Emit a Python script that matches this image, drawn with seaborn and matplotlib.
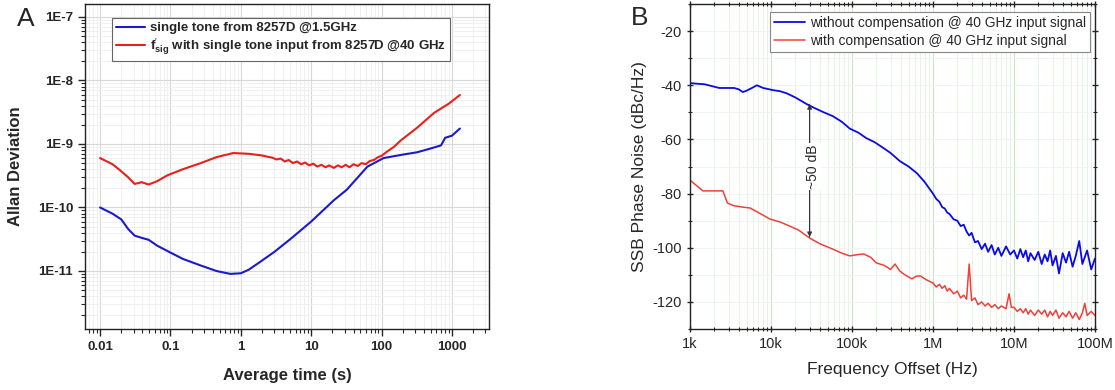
import numpy as np
import pandas as pd
import matplotlib
matplotlib.use("Agg")
import matplotlib.pyplot as plt
import matplotlib.ticker as mticker
import seaborn as sns

# ---- panel A: Allan deviation ----
tau_blue = [0.01, 0.015, 0.02, 0.025, 0.031, 0.04, 0.049, 0.065, 0.1, 0.15, 0.27, 0.45,
            0.71, 1.0, 1.3, 1.9, 3.0, 5.1, 10, 21, 32, 63, 107, 200, 320, 500, 700, 770,
            800, 1000, 1300]
adev_blue = [1.0e-10, 8.0e-11, 6.5e-11, 4.6e-11, 3.6e-11, 3.3e-11, 3.1e-11, 2.5e-11, 1.95e-11,
             1.55e-11, 1.22e-11, 1.0e-11, 9.0e-12, 9.2e-12, 1.05e-11, 1.4e-11, 2.0e-11, 3.2e-11,
             6.0e-11, 1.3e-10, 1.9e-10, 4.4e-10, 6.0e-10, 6.8e-10, 7.4e-10, 8.5e-10, 9.5e-10,
             1.15e-9, 1.25e-9, 1.35e-9, 1.75e-9]

tau_red = [0.01, 0.015, 0.019, 0.025, 0.031, 0.039, 0.049, 0.065, 0.09, 0.15, 0.27, 0.45,
           0.78, 1.3, 2.0, 2.4, 2.8, 3.2, 3.7, 4.2, 4.8, 5.5, 6.3, 7.2, 8.2, 9.4, 10.7, 12.2,
           14, 16, 18, 21, 24, 27, 31, 35, 40, 46, 52, 60, 68, 78, 89, 100, 120, 150, 190,
           320, 560, 900, 1300]
adev_red = [6.0e-10, 4.8e-10, 3.9e-10, 3.0e-10, 2.35e-10, 2.5e-10, 2.3e-10, 2.6e-10, 3.2e-10,
            4.0e-10, 5.0e-10, 6.2e-10, 7.2e-10, 7.0e-10, 6.6e-10, 6.3e-10, 6.1e-10, 5.7e-10,
            5.9e-10, 5.3e-10, 5.6e-10, 5.0e-10, 5.3e-10, 4.8e-10, 5.1e-10, 4.6e-10, 4.9e-10,
            4.4e-10, 4.7e-10, 4.3e-10, 4.6e-10, 4.2e-10, 4.6e-10, 4.3e-10, 4.7e-10, 4.3e-10,
            4.8e-10, 4.5e-10, 5.0e-10, 4.8e-10, 5.4e-10, 5.6e-10, 6.2e-10, 6.5e-10, 7.6e-10,
            9.0e-10, 1.15e-9, 1.8e-9, 3.1e-9, 4.3e-9, 5.9e-9]

label_blue_a = "single tone from 8257D @1.5GHz"
label_red_a = r"$\mathbf{f}_{\mathbf{sig}}^{\prime}$ with single tone input from 8257D @40 GHz"

a_yticks = [1e-11, 1e-10, 1e-9, 1e-8, 1e-7]
a_yticklabels = ["1E-11", "1E-10", "1E-9", "1E-8", "1E-7"]
a_xticks = [0.01, 0.1, 1, 10, 100, 1000]
a_xticklabels = ["0.01", "0.1", "1", "10", "100", "1000"]

# ---- panel B: SSB phase noise ----
f_blue = [1e3, 1.3e3, 1.5e3, 1.8e3, 2.3e3, 2.8e3, 3.5e3, 4e3, 4.5e3, 5e3, 6e3, 6.7e3, 8e3,
          1.06e4, 1.3e4, 1.57e4, 2e4, 2.78e4, 3.5e4, 4.5e4, 5.8e4, 7.5e4, 9.4e4, 1.2e5, 1.5e5,
          1.9e5, 2.4e5, 3e5, 3.9e5, 5e5, 6.3e5, 7.8e5,
          1.0e6, 1.1e6, 1.2e6, 1.3e6, 1.4e6, 1.5e6, 1.6e6, 1.8e6, 2.0e6, 2.2e6, 2.4e6, 2.6e6,
          2.8e6, 3.0e6, 3.3e6, 3.6e6, 4.0e6, 4.4e6, 4.8e6, 5.3e6, 5.8e6, 6.4e6, 7.0e6, 8.0e6,
          9.0e6,
          1.0e7, 1.1e7, 1.2e7, 1.3e7, 1.4e7, 1.5e7, 1.6e7, 1.8e7, 2.0e7, 2.2e7, 2.4e7, 2.6e7,
          2.8e7, 3.0e7, 3.3e7, 3.6e7, 4.0e7, 4.4e7, 4.8e7, 5.3e7, 5.8e7, 6.4e7, 7.0e7, 8.0e7,
          9.0e7, 1.0e8]
pn_blue = [-39.2, -39.5, -39.6, -40.2, -41, -41, -41, -41.5, -42.5, -42, -40.8, -40, -41,
           -41.8, -42.2, -43, -44.5, -47, -48.5, -50, -51.4, -53.5, -56, -57.5, -59.5,
           -61, -63, -65, -68, -70, -72.4, -75.5,
           -80, -82, -83, -85, -85.5, -87, -87.5, -89.5, -90, -92, -91.5, -94,
           -95.5, -94.5, -98, -97.5, -100.5, -98.5, -101.5, -99, -102.5, -100, -103, -99.5,
           -102.5,
           -101, -104, -100.5, -103.5, -101, -105, -102, -104.5, -101.5, -106, -102.5, -105,
           -101, -106.5, -103, -109.5, -102, -105.5, -101.5, -107, -103, -97.5, -106, -101,
           -108, -104]

f_red = [1e3, 1.2e3, 1.45e3, 2e3, 2.55e3, 2.9e3, 3.5e3, 4.5e3, 5.5e3, 7e3, 9.7e3, 1.3e4,
         1.7e4, 2.2e4, 3e4, 4e4, 5.8e4, 7.5e4, 9.4e4, 1.2e5, 1.4e5, 1.7e5, 2e5, 2.5e5, 3e5,
         3.4e5, 3.9e5, 4.5e5, 5.5e5, 6.2e5, 7e5, 8.5e5,
         1.0e6, 1.1e6, 1.2e6, 1.3e6, 1.4e6, 1.5e6, 1.6e6, 1.8e6, 2.0e6, 2.2e6, 2.4e6, 2.6e6,
         2.8e6, 3.0e6, 3.3e6, 3.6e6, 4.0e6, 4.4e6, 4.8e6, 5.3e6, 5.8e6, 6.4e6, 7.0e6, 8.0e6,
         8.7e6, 9.3e6,
         1.0e7, 1.1e7, 1.2e7, 1.3e7, 1.4e7, 1.5e7, 1.6e7, 1.8e7, 2.0e7, 2.2e7, 2.4e7, 2.6e7,
         2.8e7, 3.0e7, 3.3e7, 3.6e7, 4.0e7, 4.4e7, 4.8e7, 5.3e7, 5.8e7, 6.4e7, 7.0e7, 7.5e7,
         8.0e7, 9.0e7, 1.0e8]
pn_red = [-75, -77, -79, -79, -79, -83.5, -84.5, -85, -85.3, -87, -89.4, -90.5,
          -92, -93.5, -96.4, -98.5, -100.5, -102, -103, -102.5, -102.3, -103.5, -105.6, -106.5,
          -108, -106, -108.6, -110, -111.5, -110.5, -110.4, -112,
          -113, -114.5, -113.5, -115, -114, -116, -115, -117, -116, -118.5, -117.5, -119,
          -106, -119.5, -118.5, -121, -120, -121.5, -120.5, -122, -121, -122.5, -121.5, -122.5,
          -117, -122,
          -122, -123.5, -122.5, -124, -122.5, -124.5, -123, -125, -123, -124.5, -123, -125.5,
          -123.5, -125, -123, -126, -124, -125.5, -123.5, -126, -124, -126.5, -124, -120.5,
          -125, -123.5, -125]

label_blue_b = "without compensation @ 40 GHz input signal"
label_red_b = "with compensation @ 40 GHz input signal"

b_xticks = [1e3, 1e4, 1e5, 1e6, 1e7, 1e8]
b_xticklabels = ["1k", "10k", "100k", "1M", "10M", "100M"]
b_yticks = [-120, -100, -80, -60, -40, -20]

sns.set_style("white")
plt.rcParams["font.family"] = ["Liberation Sans", "DejaVu Sans"]
plt.rcParams["mathtext.fontset"] = "custom"
plt.rcParams["mathtext.rm"] = "Liberation Sans"
plt.rcParams["mathtext.bf"] = "Liberation Sans:bold"
plt.rcParams["axes.unicode_minus"] = False
plt.rcParams["axes.edgecolor"] = "#222222"
plt.rcParams["axes.linewidth"] = 1.0

fig = plt.figure(figsize=(11.15, 3.9), dpi=100)
ax1 = fig.add_axes([0.0762, 0.1564, 0.3623, 0.8333])
ax2 = fig.add_axes([0.6188, 0.1564, 0.3632, 0.8333])

# panel A
df_a_blue = pd.DataFrame({"tau": tau_blue, "adev": adev_blue})
df_a_red = pd.DataFrame({"tau": tau_red, "adev": adev_red})
sns.lineplot(data=df_a_blue, x="tau", y="adev", ax=ax1, color="#1a1acc", lw=1.5,
             sort=False, estimator=None, label=label_blue_a)
sns.lineplot(data=df_a_red, x="tau", y="adev", ax=ax1, color="#e8201c", lw=1.5,
             sort=False, estimator=None, label=label_red_a)
ax1.set_xscale("log")
ax1.set_yscale("log")
ax1.set_xlim(0.0061, 3360)
ax1.set_ylim(1.22e-12, 1.6e-7)
ax1.xaxis.set_major_locator(mticker.FixedLocator(a_xticks))
ax1.set_xticklabels(a_xticklabels)
ax1.yaxis.set_major_locator(mticker.FixedLocator(a_yticks))
ax1.set_yticklabels(a_yticklabels)
ax1.xaxis.set_minor_locator(mticker.LogLocator(base=10, subs=np.arange(2, 10)))
ax1.yaxis.set_minor_locator(mticker.LogLocator(base=10, subs=np.arange(2, 10)))
ax1.xaxis.set_minor_formatter(mticker.NullFormatter())
ax1.yaxis.set_minor_formatter(mticker.NullFormatter())
ax1.grid(True, which="major", color="#d8d8d8", lw=0.8)
ax1.grid(True, which="minor", color="#eeeeee", lw=0.6)
ax1.tick_params(which="major", direction="out", length=5, width=1, labelsize=9.5,
                bottom=True, left=True)
ax1.tick_params(which="minor", direction="out", length=3, width=0.8, bottom=True, left=True)
for lab in ax1.get_xticklabels() + ax1.get_yticklabels():
    lab.set_fontweight("bold")
ax1.set_xlabel("Average time (s)", fontsize=12, fontweight="bold", labelpad=11)
ax1.set_ylabel("Allan Deviation", fontsize=12, fontweight="bold", labelpad=11)
leg1 = ax1.legend(loc="upper left", bbox_to_anchor=(0.067, 0.957), borderaxespad=0,
                  frameon=True, fancybox=False, edgecolor="#666666", framealpha=1,
                  prop={"weight": "bold", "size": 9.5}, handlelength=2.2, handletextpad=0.4,
                  borderpad=0.3, labelspacing=0.15)
leg1.get_frame().set_linewidth(0.8)

# panel B
df_b_blue = pd.DataFrame({"f": f_blue, "pn": pn_blue})
df_b_red = pd.DataFrame({"f": f_red, "pn": pn_red})
sns.lineplot(data=df_b_blue, x="f", y="pn", ax=ax2, color="#0a0ae6", lw=1.3,
             sort=False, estimator=None, label=label_blue_b)
sns.lineplot(data=df_b_red, x="f", y="pn", ax=ax2, color="#f0403a", lw=1.1,
             sort=False, estimator=None, label=label_red_b)
ax2.set_xscale("log")
ax2.set_xlim(1e3, 1e8)
ax2.set_ylim(-130, -10)
ax2.xaxis.set_major_locator(mticker.FixedLocator(b_xticks))
ax2.set_xticklabels(b_xticklabels)
ax2.xaxis.set_minor_locator(mticker.LogLocator(base=10, subs=np.arange(2, 10)))
ax2.xaxis.set_minor_formatter(mticker.NullFormatter())
ax2.yaxis.set_major_locator(mticker.FixedLocator(b_yticks))
ax2.yaxis.set_minor_locator(mticker.MultipleLocator(10))
ax2.grid(True, axis="x", which="major", color="#c6e6c6", lw=0.8)
ax2.grid(True, axis="x", which="minor", color="#e2f2e2", lw=0.6)
ax2.grid(True, axis="y", which="both", color="#f0f0f0", lw=0.6)
ax2.tick_params(which="major", direction="out", length=5, width=1, labelsize=10.5,
                bottom=True, left=True)
ax2.tick_params(which="minor", direction="out", length=3, width=0.8,
                bottom=True, left=True)
ax2.tick_params(axis="x", which="both", top=True, direction="inout")
ax2.tick_params(axis="y", which="both", right=True, direction="inout")
ax2.set_xlabel("Frequency Offset (Hz)", fontsize=12.5, labelpad=8)
ax2.set_ylabel("SSB Phase Noise (dBc/Hz)", fontsize=12.5, labelpad=4)
leg2 = ax2.legend(loc="upper left", bbox_to_anchor=(0.198, 0.975), borderaxespad=0,
                  frameon=True, fancybox=False, edgecolor="#888888", framealpha=1,
                  fontsize=9.9, handlelength=2.2, handletextpad=0.4,
                  borderpad=0.3, labelspacing=0.25)
leg2.get_frame().set_linewidth(0.8)

ax2.annotate("", xy=(3e4, -47), xytext=(3e4, -96),
             arrowprops=dict(arrowstyle="-|>", color="#333333", lw=0.7, mutation_scale=7,
                             shrinkA=0, shrinkB=0))
ax2.annotate("", xy=(3e4, -96), xytext=(3e4, -47),
             arrowprops=dict(arrowstyle="-|>", color="#333333", lw=0.7, mutation_scale=7,
                             shrinkA=0, shrinkB=0))
ax2.text(3.3e4, -70, "~50 dB", rotation=90, ha="center", va="center", fontsize=10,
         bbox=dict(facecolor="white", edgecolor="none", pad=1))

fig.text(0.0233, 0.951, "A", fontsize=19, ha="center", va="center")
fig.text(0.574, 0.954, "B", fontsize=19, ha="center", va="center")

fig.savefig("out.png", dpi=100)
